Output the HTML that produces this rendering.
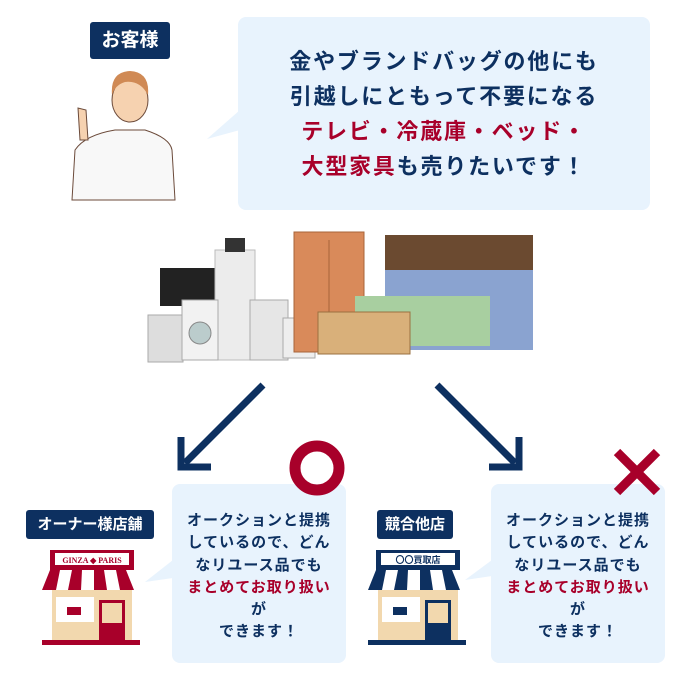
<!DOCTYPE html>
<html><head><meta charset="utf-8"><style>
body{margin:0;width:700px;height:700px;background:#fff;position:relative;overflow:hidden;font-family:"Liberation Sans","Noto Sans CJK JP",sans-serif;font-weight:bold}
.a{position:absolute}
.lab{background:#0d3060;color:#fff;border-radius:3px;text-align:center;position:absolute}
.bub{position:absolute;background:#e8f3fd;border-radius:8px;text-align:center;color:#0d3060}
.r{color:#a8002a}
</style></head><body>
<svg class="a" style="left:0;top:0" width="700" height="700">
<polygon points="240,110 207,139 240,130" fill="#e8f3fd"/>
<polygon points="173,560 145,582 173,578" fill="#e8f3fd"/>
<!-- person -->
<path d="M72,200 L75,150 Q85,135 115,130 L145,130 Q170,138 172,150 L175,200 Z" fill="#f8f8f8" stroke="#6b4a3a" stroke-width="1"/>
<ellipse cx="130" cy="100" rx="18" ry="22" fill="#f6d2b0" stroke="#6b4a3a" stroke-width="1"/>
<path d="M112,95 Q110,72 130,71 Q150,72 148,95 Q140,80 125,82 Q115,85 112,95Z" fill="#d08a55"/>
<path d="M78,108 L80,140 L88,140 L86,110Z" fill="#f6d2b0" stroke="#6b4a3a" stroke-width="1"/>
<!-- furniture approximations -->
<rect x="160" y="268" width="55" height="38" fill="#222"/>
<rect x="215" y="250" width="40" height="110" fill="#ececec" stroke="#bbb"/>
<rect x="225" y="238" width="20" height="14" fill="#333"/>
<rect x="148" y="315" width="35" height="47" fill="#ddd" stroke="#aaa"/>
<rect x="182" y="300" width="36" height="60" fill="#f2f2f2" stroke="#aaa"/>
<circle cx="200" cy="333" r="11" fill="#bcc" stroke="#888"/>
<rect x="250" y="300" width="38" height="60" fill="#e6e6e6" stroke="#aaa"/>
<rect x="283" y="318" width="32" height="40" fill="#eee" stroke="#aaa"/>
<rect x="294" y="232" width="70" height="120" fill="#d98a5a" stroke="#a8643a"/>
<line x1="329" y1="240" x2="329" y2="345" stroke="#a8643a"/>
<rect x="385" y="235" width="148" height="55" fill="#6b4a30"/>
<path d="M385,270 L533,270 L533,350 L385,350Z" fill="#8aa3d0"/>
<rect x="355" y="296" width="135" height="50" fill="#a8cfa0"/>
<rect x="318" y="312" width="92" height="42" fill="#d9b07a" stroke="#9a7040"/>
<!-- arrows -->
<g stroke="#0d3060" stroke-width="7" fill="none">
<line x1="263" y1="385" x2="185" y2="463"/>
<polyline points="181,437 181,467 211,467"/>
<line x1="437" y1="385" x2="515" y2="463"/>
<polyline points="519,437 519,467 489,467"/>
</g>
<polygon points="492,560 465,580 492,576" fill="#e8f3fd"/>
<!-- shops -->
<g>
<rect x="52" y="590" width="80" height="50" fill="#f2d8ae"/>
<rect x="42" y="640" width="98" height="5" fill="#a8002a"/>
<rect x="99" y="600" width="26" height="40" fill="#a8002a"/><rect x="102" y="603" width="20" height="20" fill="#f2d8ae"/>
<rect x="56" y="597" width="38" height="25" fill="#fff"/><rect x="67" y="607" width="14" height="8" fill="#a8002a"/>
<rect x="50" y="550" width="84" height="20" fill="#a8002a"/><rect x="55" y="553" width="74" height="12" fill="#fff"/>
<text x="92" y="563" font-size="8" fill="#a8002a" text-anchor="middle" font-family="Liberation Serif">GINZA ◆ PARIS</text>
<path d="M50,570 L134,570 L142,590 L42,590Z" fill="#fff"/>
<path d="M50,570 L60,570 L56,590 L42,590Z M72,570 L82,570 L81,590 L68,590Z M94,570 L104,570 L107,590 L94,590Z M116,570 L126,570 L134,590 L120,590Z" fill="#a8002a"/>
</g>
<g>
<rect x="378" y="590" width="80" height="50" fill="#f2d8ae"/>
<rect x="368" y="640" width="98" height="5" fill="#0d3060"/>
<rect x="425" y="600" width="26" height="40" fill="#0d3060"/><rect x="428" y="603" width="20" height="20" fill="#f2d8ae"/>
<rect x="382" y="597" width="38" height="25" fill="#fff"/><rect x="393" y="607" width="14" height="8" fill="#0d3060"/>
<rect x="376" y="550" width="84" height="20" fill="#0d3060"/><rect x="381" y="553" width="74" height="12" fill="#fff"/>
<text x="418" y="563" font-size="9" fill="#0d3060" text-anchor="middle">〇〇買取店</text>
<path d="M376,570 L460,570 L468,590 L368,590Z" fill="#fff"/>
<path d="M376,570 L386,570 L382,590 L368,590Z M398,570 L408,570 L407,590 L394,590Z M420,570 L430,570 L433,590 L420,590Z M442,570 L452,570 L460,590 L446,590Z" fill="#0d3060"/>
</g>
</svg>
<div class="lab" style="left:90px;top:22px;width:80px;height:37px;line-height:37px;font-size:19px">お客様</div>
<div class="bub" style="left:238px;top:17px;width:412px;height:193px;font-size:22px;letter-spacing:1.8px;line-height:35px;padding-top:27px;box-sizing:border-box">金やブランドバッグの他にも<br>引越しにともって不要になる<br><span class="r">テレビ・冷蔵庫・ベッド・</span><br><span class="r">大型家具</span>も売りたいです！</div>
<div class="bub" style="left:172px;top:484px;width:174px;height:179px;font-size:15px;letter-spacing:1px;line-height:22.3px;padding-top:26px;box-sizing:border-box">オークションと提携<br>しているので、どん<br>なリユース品でも<br><span class="r">まとめてお取り扱い</span><br>が<br>できます！</div>
<div class="bub" style="left:491px;top:484px;width:174px;height:179px;font-size:15px;letter-spacing:1px;line-height:22.3px;padding-top:26px;box-sizing:border-box">オークションと提携<br>しているので、どん<br>なリユース品でも<br><span class="r">まとめてお取り扱い</span><br>が<br>できます！</div>
<svg class="a" style="left:0;top:0" width="700" height="700">
<circle cx="317" cy="468" r="22" fill="none" stroke="#a8002a" stroke-width="11"/>
<g stroke="#a8002a" stroke-width="9"><line x1="617" y1="452" x2="657" y2="492"/><line x1="657" y1="452" x2="617" y2="492"/></g>
</svg>
<div class="lab" style="left:26px;top:510px;width:128px;height:29px;line-height:29px;font-size:15px">オーナー様店舗</div>
<div class="lab" style="left:377px;top:510px;width:76px;height:29px;line-height:29px;font-size:15px">競合他店</div>
</body></html>
